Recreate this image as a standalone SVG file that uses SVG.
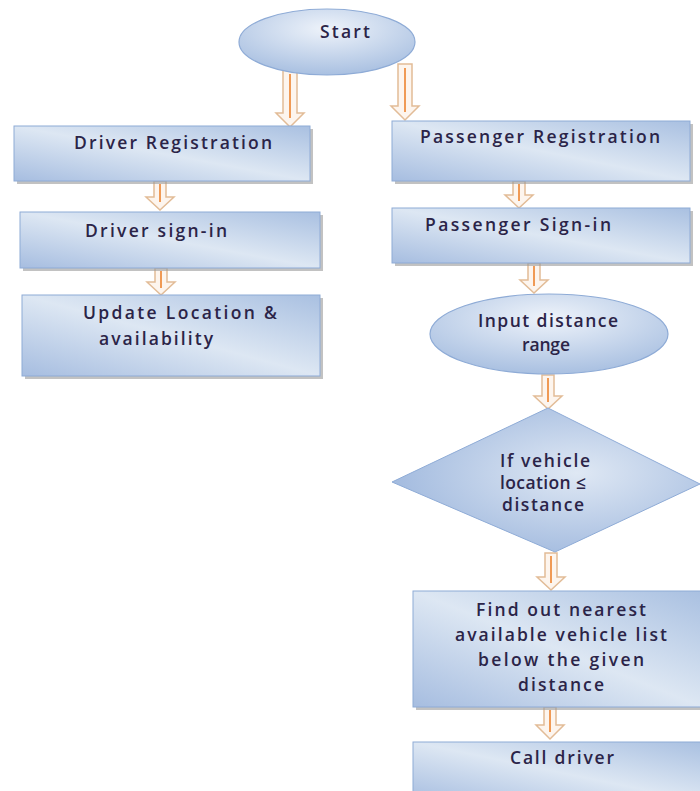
<svg xmlns="http://www.w3.org/2000/svg" width="700" height="791" viewBox="0 0 700 791">
<defs>
<linearGradient id="g" x1="0" y1="1" x2="1" y2="0">
<stop offset="0" stop-color="#a6bde0"/>
<stop offset="0.5" stop-color="#dde7f3"/>
<stop offset="1" stop-color="#a9c0e1"/>
</linearGradient>
<radialGradient id="ge" cx="0.5" cy="0.3" r="0.7">
<stop offset="0" stop-color="#eef3fa"/>
<stop offset="1" stop-color="#a9c0e1"/>
</radialGradient>
<radialGradient id="gd" cx="0.6" cy="0.45" r="0.6">
<stop offset="0" stop-color="#dfe8f4"/>
<stop offset="1" stop-color="#a3bbdf"/>
</radialGradient>
</defs>
<style>
.box{fill:url(#g);stroke:#8eabd6;stroke-width:1}
.sh{fill:#9a9a9a;opacity:0.6}
.ell{fill:url(#ge);stroke:#8eabd6;stroke-width:1.2}
.dia{fill:url(#gd);stroke:#8eabd6;stroke-width:1}
.t{font-family:"Open Sans","Liberation Sans",sans-serif;font-size:17.5px;fill:#2b2448;text-anchor:middle;font-weight:600}
.ar{fill:#fdf5ee;stroke:#e2bc97;stroke-width:1.5;stroke-linejoin:miter}
.al{stroke:#f09a55;stroke-width:2;fill:none}
</style>

<g id="connectors">
<g><path class="ar" d="M283,70 H297 V113 H304 L290,127 L276,113 H283 Z"/><line class="al" x1="290" y1="74" x2="290" y2="118"/></g>
<g><path class="ar" d="M398,64 H412 V106 H419 L405,120 L391,106 H398 Z"/><line class="al" x1="405" y1="68" x2="405" y2="112"/></g>
<g><path class="ar" d="M154,181 H166 V197 H174 L160,210 L146,197 H154 Z"/><line class="al" x1="160" y1="184" x2="160" y2="202"/></g>
<g><path class="ar" d="M155,268 H167 V282 H175 L161,295 L147,282 H155 Z"/><line class="al" x1="161" y1="271" x2="161" y2="288"/></g>
<g><path class="ar" d="M513,181 H525 V195 H533 L519,208 L505,195 H513 Z"/><line class="al" x1="519" y1="184" x2="519" y2="201"/></g>
<g><path class="ar" d="M528,263 H540 V280 H548 L534,293 L520,280 H528 Z"/><line class="al" x1="534" y1="266" x2="534" y2="286"/></g>
<g><path class="ar" d="M542,375 H554 V396 H562 L548,409 L534,396 H542 Z"/><line class="al" x1="548" y1="378" x2="548" y2="402"/></g>
<g><path class="ar" d="M545,553 H557 V577 H565 L551,590 L537,577 H545 Z"/><line class="al" x1="551" y1="556" x2="551" y2="583"/></g>
<g><path class="ar" d="M544,707 H556 V725 H564 L550,739 L536,725 H544 Z"/><line class="al" x1="550" y1="710" x2="550" y2="732"/></g>
</g>

<g id="start">
<ellipse class="ell" cx="327" cy="42" rx="88" ry="33"/>
<text class="t" x="345" y="38" textLength="50">Start</text>
</g>

<g id="driver-registration">
<rect class="sh" x="17" y="129" width="296" height="55"/>
<rect class="box" x="14" y="126" width="296" height="55"/>
<text class="t" x="173" y="149" textLength="198">Driver Registration</text>
</g>

<g id="driver-signin">
<rect class="sh" x="23" y="215" width="300" height="56"/>
<rect class="box" x="20" y="212" width="300" height="56"/>
<text class="t" x="156" y="237" textLength="142">Driver  sign-in</text>
</g>

<g id="update-location">
<rect class="sh" x="25" y="298" width="298" height="81"/>
<rect class="box" x="22" y="295" width="298" height="81"/>
<text class="t" x="180" y="319" textLength="194">Update Location &amp;</text>
<text class="t" x="156" y="345" textLength="114">availability</text>
</g>

<g id="passenger-registration">
<rect class="sh" x="395" y="124" width="298" height="60"/>
<rect class="box" x="392" y="121" width="298" height="60"/>
<text class="t" x="540" y="143" textLength="240">Passenger Registration</text>
</g>

<g id="passenger-signin">
<rect class="sh" x="395" y="211" width="298" height="55"/>
<rect class="box" x="392" y="208" width="298" height="55"/>
<text class="t" x="518" y="231" textLength="186">Passenger Sign-in</text>
</g>

<g id="input-distance">
<ellipse class="ell" cx="549" cy="334" rx="119" ry="40"/>
<text class="t" x="548" y="327" textLength="140">Input distance</text>
<text class="t" x="546" y="351" textLength="48">range</text>
</g>

<g id="decision">
<path class="dia" d="M548,408 L700,484 L555,552 L392,482 Z"/>
<text class="t" x="545" y="467" textLength="90">If vehicle</text>
<text class="t" x="543" y="489" textLength="86">location ≤</text>
<text class="t" x="543" y="511" textLength="82">distance</text>
</g>

<g id="find-vehicles">
<rect class="sh" x="416" y="594" width="290" height="116"/>
<rect class="box" x="413" y="591" width="290" height="116"/>
<text class="t" x="561" y="616" textLength="170">Find out nearest</text>
<text class="t" x="561" y="641" textLength="212">available vehicle list</text>
<text class="t" x="561" y="666" textLength="166">below the given</text>
<text class="t" x="561" y="691" textLength="86">distance</text>
</g>

<g id="call-driver">
<rect class="sh" x="416" y="745" width="290" height="60"/>
<rect class="box" x="413" y="742" width="290" height="60"/>
<text class="t" x="562" y="764" textLength="104">Call driver</text>
</g>
</svg>
